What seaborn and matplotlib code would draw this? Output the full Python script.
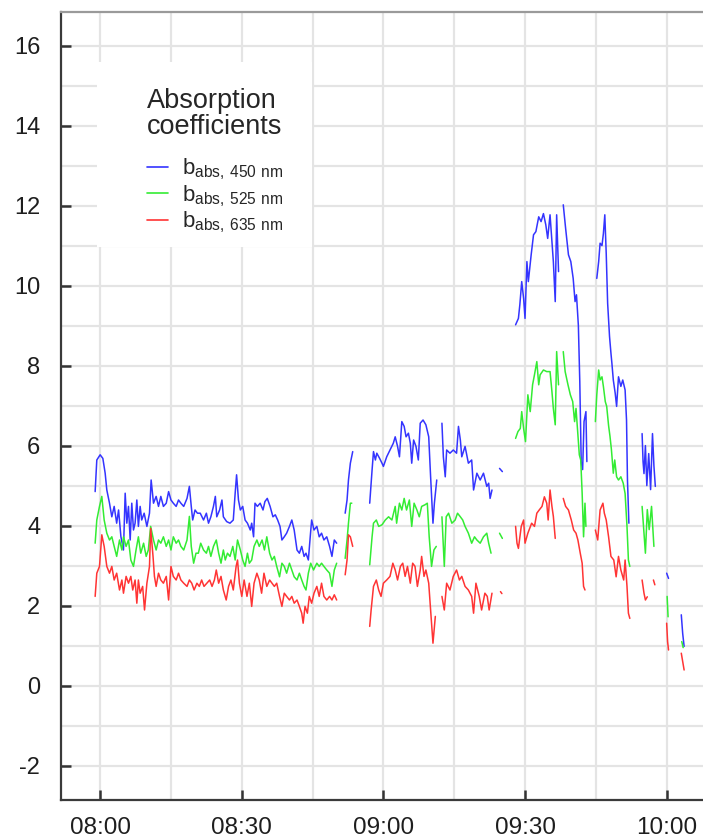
import numpy as np
import pandas as pd
import matplotlib
matplotlib.use("Agg")
import matplotlib.pyplot as plt
from matplotlib.ticker import MultipleLocator, FixedLocator
from matplotlib.lines import Line2D
from matplotlib.patches import Rectangle
import seaborn as sns

# Absorption coefficients (Mm^-1) against time in minutes after 08:00.
# Each series is a list of continuous record pieces of (minute, value) pairs.
blue_450 = [
    [(-1.06, 4.85), (-0.71, 5.64), (0.0, 5.77), (0.57, 5.68), (1.06, 5.31), (1.41, 4.89), (1.98, 4.56),
     (2.47, 4.22), (2.97, 4.48), (3.5, 4.06), (3.9, 4.39), (4.4, 3.72), (4.94, 3.39), (5.3, 4.81),
     (5.65, 4.06), (6.0, 4.48), (6.36, 3.64), (6.7, 4.56), (7.06, 3.89), (7.4, 4.06), (7.77, 4.64),
     (8.1, 3.98), (8.47, 4.48), (8.8, 4.14), (9.32, 4.31), (9.9, 3.98), (10.45, 4.31), (10.8, 5.14),
     (11.3, 4.56), (11.86, 4.73), (12.36, 4.48), (12.85, 4.73), (13.4, 4.48), (14.0, 4.56), (14.5, 4.85),
     (15.0, 4.64), (15.5, 4.56), (16.1, 4.48), (16.6, 4.64), (17.1, 4.56), (17.7, 4.48), (18.4, 4.68),
     (18.9, 4.98), (19.3, 4.48), (19.6, 4.14), (20.1, 4.39), (20.6, 4.31), (21.2, 4.31), (21.9, 4.14),
     (22.5, 4.31), (22.95, 4.06), (23.45, 4.22), (24.0, 4.48), (24.4, 4.73), (24.7, 4.22), (25.3, 4.39),
     (25.8, 4.64), (26.1, 4.22), (26.8, 4.1), (27.5, 4.06), (28.2, 4.14), (28.6, 4.81), (28.9, 5.27),
     (29.3, 4.64), (29.7, 4.39), (30.2, 4.48), (30.7, 4.14), (31.2, 4.06), (31.8, 3.89), (32.1, 4.06),
     (32.5, 3.72), (32.8, 4.56), (33.3, 4.48), (33.9, 4.56), (34.5, 4.39), (34.9, 4.6), (35.4, 4.68),
     (36.0, 4.48), (36.6, 4.22), (37.1, 4.27), (37.6, 4.14), (38.1, 3.98), (38.5, 3.64), (39.0, 3.72),
     (39.5, 3.81), (40.1, 3.98), (40.6, 4.14), (41.1, 3.89), (41.7, 3.39), (42.2, 3.31), (42.7, 3.48),
     (43.2, 3.23), (43.6, 3.31), (44.1, 3.14), (44.5, 3.72), (44.8, 4.14), (45.3, 3.89), (45.9, 3.98),
     (46.4, 3.72), (46.9, 3.81), (47.4, 3.64), (48.0, 3.72), (48.6, 3.48), (49.1, 3.23), (49.6, 3.64),
     (50.1, 3.56)],
    [(51.9, 4.31), (52.3, 4.64), (52.6, 5.14), (53.0, 5.56), (53.5, 5.85)],
    [(57.1, 4.56), (57.6, 5.39), (57.9, 5.85), (58.3, 5.64), (58.6, 5.81), (59.2, 5.68), (59.7, 5.56),
     (60.0, 5.48), (60.7, 5.72), (61.4, 5.89), (62.1, 6.06), (62.5, 6.22), (63.0, 5.98), (63.4, 5.72),
     (63.9, 6.6), (64.4, 6.48), (64.8, 6.22), (65.3, 6.31), (65.7, 6.06), (66.0, 5.56), (66.4, 6.14),
     (66.9, 5.98), (67.4, 5.64), (67.8, 6.56), (68.4, 6.64), (69.0, 6.52), (69.6, 6.22), (70.0, 5.22),
     (70.5, 4.06), (70.8, 4.56), (71.3, 5.14)],
    [(72.4, 6.56), (72.7, 5.72), (73.1, 5.22), (73.4, 5.89), (74.1, 5.81), (74.8, 5.89), (75.5, 5.81),
     (75.9, 6.48), (76.3, 6.14), (76.6, 5.72), (77.3, 5.98), (78.0, 5.56), (78.7, 5.64), (79.1, 4.89),
     (79.8, 5.31), (80.5, 5.14), (81.2, 5.31), (81.9, 4.98), (82.3, 5.06), (82.6, 4.68), (83.0, 4.89)],
    [(84.6, 5.43), (85.2, 5.35)],
    [(88.0, 9.02), (88.6, 9.18), (88.9, 9.52), (89.3, 10.1), (89.7, 9.68), (90.0, 9.18), (90.4, 10.6),
     (90.7, 10.1), (91.3, 10.77), (91.8, 11.27), (92.3, 11.35), (92.9, 11.72), (93.4, 11.6), (93.9, 11.8),
     (94.4, 11.52), (94.8, 11.18), (95.3, 11.77), (95.7, 11.1), (96.0, 10.6), (96.4, 9.6), (96.7, 11.77),
     (97.1, 10.35)],
    [(98.1, 12.02), (98.6, 11.43), (99.2, 10.77), (99.7, 10.6), (100.2, 10.18), (100.6, 9.6), (100.9, 9.77),
     (101.3, 9.0), (101.6, 7.6), (101.9, 5.6), (102.2, 5.4), (102.5, 6.6), (102.9, 6.85), (103.1, 5.6)],
    [(105.2, 10.18), (105.6, 10.6), (105.9, 11.06), (106.3, 11.0), (106.6, 11.3), (106.9, 11.77),
     (107.2, 10.8), (107.5, 9.56), (107.9, 8.73), (108.2, 8.31), (108.4, 8.06), (108.7, 7.64),
     (109.1, 7.31), (109.4, 6.98), (109.8, 7.72), (110.3, 7.48), (110.7, 7.64), (111.2, 7.39),
     (111.5, 6.64), (111.7, 5.14), (112.0, 4.06)],
    [(114.8, 6.3), (115.0, 5.6), (115.2, 5.3), (115.5, 6.0), (115.8, 5.0), (116.2, 5.8), (116.6, 4.9),
     (117.0, 6.3), (117.3, 5.5), (117.6, 4.98)],
    [(120.0, 2.81), (120.4, 2.68)],
    [(123.1, 1.77), (123.4, 1.3), (123.7, 0.98)],
]

green_525 = [
    [(-1.06, 3.56), (-0.71, 4.14), (-0.14, 4.48), (0.35, 4.73), (0.85, 4.14), (1.41, 3.81), (1.98, 3.64),
     (2.47, 3.72), (2.97, 3.48), (3.5, 3.23), (4.1, 3.64), (4.6, 3.39), (4.94, 3.72), (5.5, 3.48),
     (6.0, 3.64), (6.5, 3.14), (7.06, 2.98), (7.6, 3.39), (8.1, 3.72), (8.6, 3.31), (9.2, 3.56),
     (9.75, 3.23), (10.2, 3.39), (10.7, 3.98), (11.3, 3.64), (11.86, 3.39), (12.36, 3.64), (12.85, 3.56),
     (13.4, 3.72), (14.0, 3.48), (14.5, 3.64), (15.0, 3.39), (15.5, 3.72), (16.1, 3.56), (16.6, 3.64),
     (17.1, 3.48), (17.7, 3.39), (18.4, 3.64), (18.9, 4.23), (19.3, 3.48), (19.8, 3.06), (20.3, 3.31),
     (20.8, 3.31), (21.3, 3.56), (21.9, 3.39), (22.5, 3.31), (22.95, 3.48), (23.45, 3.23), (24.0, 3.48),
     (24.6, 3.64), (25.1, 3.31), (25.6, 3.06), (26.1, 3.39), (26.5, 3.14), (26.97, 3.31), (27.5, 3.23),
     (28.1, 3.48), (28.6, 3.14), (29.1, 3.64), (29.7, 3.39), (30.2, 3.14), (30.7, 2.98), (31.2, 3.31),
     (31.6, 3.06), (32.1, 3.14), (32.6, 3.48), (33.2, 3.64), (33.7, 3.48), (34.3, 3.64), (34.8, 3.39),
     (35.3, 3.72), (35.9, 3.31), (36.4, 3.14), (36.9, 3.23), (37.4, 2.98), (38.0, 2.72), (38.5, 3.06),
     (39.0, 2.98), (39.5, 2.81), (40.1, 3.06), (40.6, 2.89), (41.1, 2.72), (41.7, 2.64), (42.2, 2.81),
     (42.7, 2.64), (43.2, 2.48), (43.6, 2.39), (44.1, 2.81), (44.6, 3.06), (45.2, 2.89), (45.9, 3.06),
     (46.4, 2.98), (46.9, 3.06), (47.4, 2.98), (48.0, 2.89), (48.6, 2.81), (49.1, 2.48), (49.6, 2.89),
     (50.1, 3.06)],
    [(51.9, 3.18), (52.3, 3.64), (52.6, 4.06), (53.0, 4.56), (53.3, 4.56)],
    [(57.1, 3.02), (57.6, 3.72), (57.9, 4.06), (58.5, 4.14), (59.0, 3.98), (59.7, 4.02), (60.4, 4.14),
     (61.1, 4.22), (61.8, 4.14), (62.5, 4.48), (62.8, 4.06), (63.4, 4.56), (63.9, 4.39), (64.4, 4.68),
     (64.9, 4.39), (65.5, 4.64), (66.0, 3.98), (66.5, 4.56), (67.1, 4.39), (67.6, 4.22), (68.1, 4.48),
     (68.8, 4.52), (69.3, 4.56), (69.7, 3.72), (70.2, 2.98), (70.7, 3.39), (71.2, 3.48)],
    [(72.4, 4.22), (72.9, 2.98), (73.3, 4.22), (73.8, 4.31), (74.5, 4.06), (75.2, 4.14), (75.7, 4.31),
     (76.3, 4.22), (76.8, 4.14), (77.3, 3.98), (78.0, 3.81), (78.7, 3.56), (79.3, 3.72), (79.8, 3.64),
     (80.5, 3.56), (81.2, 3.72), (81.9, 3.81), (82.3, 3.56), (82.8, 3.31)],
    [(84.6, 3.81), (85.2, 3.68)],
    [(88.0, 6.18), (88.5, 6.35), (89.0, 6.43), (89.3, 6.85), (89.7, 6.43), (90.1, 6.1), (90.6, 7.27),
     (91.1, 6.85), (91.6, 7.52), (92.0, 7.77), (92.5, 8.1), (92.9, 7.52), (93.2, 7.77), (93.9, 7.89),
     (94.6, 7.85), (95.3, 7.85), (95.7, 7.35), (96.0, 6.93), (96.4, 6.52), (96.7, 8.35), (97.1, 7.52)],
    [(98.1, 8.35), (98.5, 7.85), (99.1, 7.52), (99.6, 7.27), (100.1, 7.1), (100.5, 6.6), (100.8, 6.93),
     (101.2, 6.27), (101.5, 5.77), (101.8, 5.64), (102.1, 4.81), (102.4, 3.72), (102.7, 4.56),
     (102.9, 3.98)],
    [(104.9, 6.6), (105.2, 7.27), (105.6, 7.89), (105.9, 7.64), (106.3, 7.72), (106.6, 7.48), (107.0, 7.1),
     (107.3, 6.98), (107.7, 6.5), (108.0, 6.23), (108.3, 5.9), (108.7, 5.31), (109.0, 5.64), (109.4, 5.22),
     (109.8, 5.14), (110.3, 5.22), (110.8, 5.06), (111.2, 4.8), (111.6, 3.98), (111.9, 3.14),
     (112.2, 2.98)],
    [(114.8, 4.48), (115.2, 3.81), (115.5, 3.31), (115.9, 4.4), (116.3, 3.9), (116.8, 4.48), (117.3, 3.48)],
    [(120.1, 2.23), (120.3, 1.72)],
    [(123.2, 1.1), (123.5, 0.95)],
]

red_635 = [
    [(-1.06, 2.23), (-0.71, 2.81), (-0.14, 2.98), (0.35, 3.77), (0.85, 3.48), (1.41, 2.98), (1.98, 2.81),
     (2.47, 2.98), (2.97, 2.64), (3.5, 2.81), (4.1, 2.39), (4.6, 2.64), (4.94, 2.31), (5.5, 2.73),
     (6.0, 2.56), (6.5, 2.73), (6.9, 2.39), (7.4, 2.64), (7.77, 2.06), (8.1, 2.64), (8.47, 2.31),
     (9.0, 2.48), (9.4, 1.89), (9.9, 2.56), (10.45, 2.98), (10.7, 3.93), (11.2, 3.23), (11.5, 2.73),
     (11.86, 2.48), (12.36, 2.81), (12.85, 2.64), (13.4, 2.56), (14.0, 2.73), (14.5, 2.14), (15.0, 2.98),
     (15.5, 2.73), (16.1, 2.64), (16.6, 2.81), (17.1, 2.64), (17.7, 2.56), (18.4, 2.48), (18.9, 2.64),
     (19.4, 2.56), (19.9, 2.39), (20.5, 2.56), (21.0, 2.48), (21.5, 2.64), (22.0, 2.48), (22.6, 2.56),
     (23.2, 2.64), (23.7, 2.48), (24.2, 2.64), (24.6, 2.89), (25.1, 2.56), (25.6, 2.73), (26.1, 2.39),
     (26.7, 2.14), (27.2, 2.48), (27.7, 2.64), (28.2, 2.39), (28.8, 2.98), (29.1, 3.14), (29.5, 2.56),
     (30.0, 2.23), (30.5, 2.64), (31.1, 2.23), (31.6, 2.56), (32.1, 1.98), (32.6, 2.56), (33.2, 2.81),
     (33.7, 2.64), (34.2, 2.31), (34.7, 2.81), (35.3, 2.48), (35.9, 2.64), (36.4, 2.56), (36.9, 2.48),
     (37.4, 2.56), (38.0, 2.23), (38.5, 1.98), (39.0, 2.31), (39.5, 2.23), (40.1, 2.14), (40.6, 2.23),
     (41.1, 2.06), (41.7, 2.14), (42.2, 1.98), (42.7, 1.81), (43.0, 1.56), (43.4, 1.98), (43.9, 1.81),
     (44.3, 2.23), (44.8, 2.06), (45.3, 2.31), (45.9, 2.48), (46.4, 2.23), (46.9, 2.56), (47.4, 2.23),
     (48.0, 2.14), (48.6, 2.23), (49.1, 2.14), (49.6, 2.27), (50.1, 2.14)],
    [(51.9, 2.77), (52.3, 3.14), (52.6, 3.77), (53.0, 3.72), (53.5, 3.48)],
    [(57.1, 1.48), (57.4, 1.89), (57.9, 2.48), (58.5, 2.64), (59.0, 2.39), (59.5, 2.23), (60.0, 2.56),
     (60.7, 2.64), (61.4, 2.73), (62.0, 3.06), (62.5, 2.89), (63.0, 2.64), (63.6, 2.98), (64.1, 3.06),
     (64.6, 2.73), (65.1, 2.98), (65.7, 2.56), (66.2, 3.06), (66.7, 2.98), (67.2, 2.48), (67.8, 2.89),
     (68.1, 3.23), (68.6, 2.73), (69.0, 2.89), (69.6, 2.56), (70.0, 1.89), (70.5, 1.06), (71.0, 1.73)],
    [(72.4, 2.23), (72.9, 1.89), (73.4, 2.56), (74.1, 2.39), (74.8, 2.73), (75.5, 2.89), (76.1, 2.64),
     (76.6, 2.73), (77.3, 2.48), (78.0, 2.39), (78.7, 2.23), (79.1, 1.81), (79.6, 2.56), (80.3, 2.23),
     (80.8, 1.89), (81.5, 2.31), (82.0, 2.23), (82.4, 1.89), (83.0, 2.31)],
    [(84.8, 2.35), (85.1, 2.3)],
    [(88.0, 3.98), (88.3, 3.56), (88.6, 3.43), (89.2, 3.98), (89.7, 4.14), (90.0, 3.56), (90.6, 3.81),
     (91.4, 4.06), (92.0, 3.98), (92.5, 4.31), (93.0, 4.39), (93.6, 4.48), (94.1, 4.72), (94.6, 4.56),
     (94.9, 4.14), (95.3, 4.89), (95.7, 4.48), (96.0, 4.23), (96.4, 3.68)],
    [(98.1, 4.68), (98.6, 4.48), (99.2, 4.39), (99.8, 4.14), (100.3, 3.89), (100.8, 3.81), (101.2, 3.64),
     (101.7, 3.31), (102.1, 3.06), (102.4, 2.48), (102.7, 2.39)],
    [(104.9, 3.89), (105.4, 3.64), (105.9, 4.39), (106.5, 4.56), (106.8, 4.31), (107.2, 4.14), (107.7, 3.72),
     (108.2, 3.23), (108.8, 3.14), (109.3, 2.72), (109.8, 3.23), (110.3, 2.89), (110.9, 2.64), (111.2, 3.14),
     (111.6, 2.48), (111.9, 1.81), (112.2, 1.68)],
    [(114.8, 2.64), (115.2, 2.31), (115.5, 2.14), (115.9, 2.22)],
    [(117.2, 2.64), (117.5, 2.52)],
    [(120.0, 1.56), (120.2, 1.1), (120.4, 0.89)],
    [(123.1, 0.81), (123.4, 0.6), (123.7, 0.39)],
]

series_labels = [r"$\mathregular{b_{abs,\,450\ nm}}$",
                 r"$\mathregular{b_{abs,\,525\ nm}}$",
                 r"$\mathregular{b_{abs,\,635\ nm}}$"]
series_colors = ["#3434ff", "#33ec33", "#ff3434"]
legend_title = "Absorption\ncoefficients"

tick_minutes = [0, 30, 60, 90, 120]
tick_labels = ["08:00", "08:30", "09:00", "09:30", "10:00"]

# long table: one row per sample, one unit per continuous piece
rows = []
for label, pieces in zip(series_labels, [blue_450, green_525, red_635]):
    for k, piece in enumerate(pieces):
        for minute, value in piece:
            rows.append({"minute": minute, "babs": value, "series": label, "piece": f"{label}-{k}"})
df = pd.DataFrame(rows)

sns.set_theme(style="whitegrid")
plt.rcParams["font.family"] = ["Liberation Sans", "DejaVu Sans"]
plt.rcParams["mathtext.default"] = "regular"
plt.rcParams["axes.unicode_minus"] = False

fig = plt.figure(figsize=(7.03, 8.40), dpi=100)
ax = fig.add_axes([60.5 / 703, 40 / 840, (703 - 60.5) / 703, 788 / 840])

sns.lineplot(data=df, x="minute", y="babs", hue="series", units="piece", estimator=None,
             sort=False, palette=dict(zip(series_labels, series_colors)), linewidth=1.1,
             legend=False, ax=ax, zorder=3)

ax.set_xlim(-8.4, 127.7)
ax.set_ylim(-2.86, 16.84)
ax.set_xlabel("")
ax.set_ylabel("")

ax.xaxis.set_major_locator(FixedLocator(tick_minutes))
ax.set_xticklabels(tick_labels)
ax.xaxis.set_minor_locator(MultipleLocator(15))
ax.yaxis.set_major_locator(MultipleLocator(2))
ax.yaxis.set_minor_locator(MultipleLocator(1))

ax.grid(which="both", color="#e4e4e4", linewidth=1.6)
ax.set_axisbelow(True)
ax.tick_params(which="major", direction="in", length=7, width=1.8, color="#333333",
               labelcolor="#1e1e1e", bottom=True, left=True)
ax.tick_params(axis="y", which="major", labelsize=17, pad=14.5)
ax.tick_params(axis="x", which="major", labelsize=17.5, pad=12)
ax.tick_params(which="minor", length=0)

for side in ("left", "bottom"):
    ax.spines[side].set_color("#3a3a3a")
    ax.spines[side].set_linewidth(1.6)
ax.spines["top"].set_color("#9a9a9a")
ax.spines["top"].set_linewidth(1.6)
ax.spines["right"].set_visible(False)

# white panel behind the legend
ax.add_patch(Rectangle((0.057, 0.7018), 0.334, 0.2348, transform=ax.transAxes,
                       facecolor="white", edgecolor="none", zorder=4))
handles = [Line2D([], [], color=c, linewidth=1.2) for c in series_colors]
leg = ax.legend(handles, series_labels, title=legend_title, loc="upper center",
                bbox_to_anchor=(0.2405, 0.918), frameon=False, fontsize=16,
                title_fontsize=19.5, borderpad=0, handlelength=0.95, handletextpad=0.6,
                labelspacing=0.05)
leg.set_zorder(5)
leg.get_title().set_linespacing(1.0)
leg._legend_box.sep = 12

fig.savefig("out.png", dpi=100)
